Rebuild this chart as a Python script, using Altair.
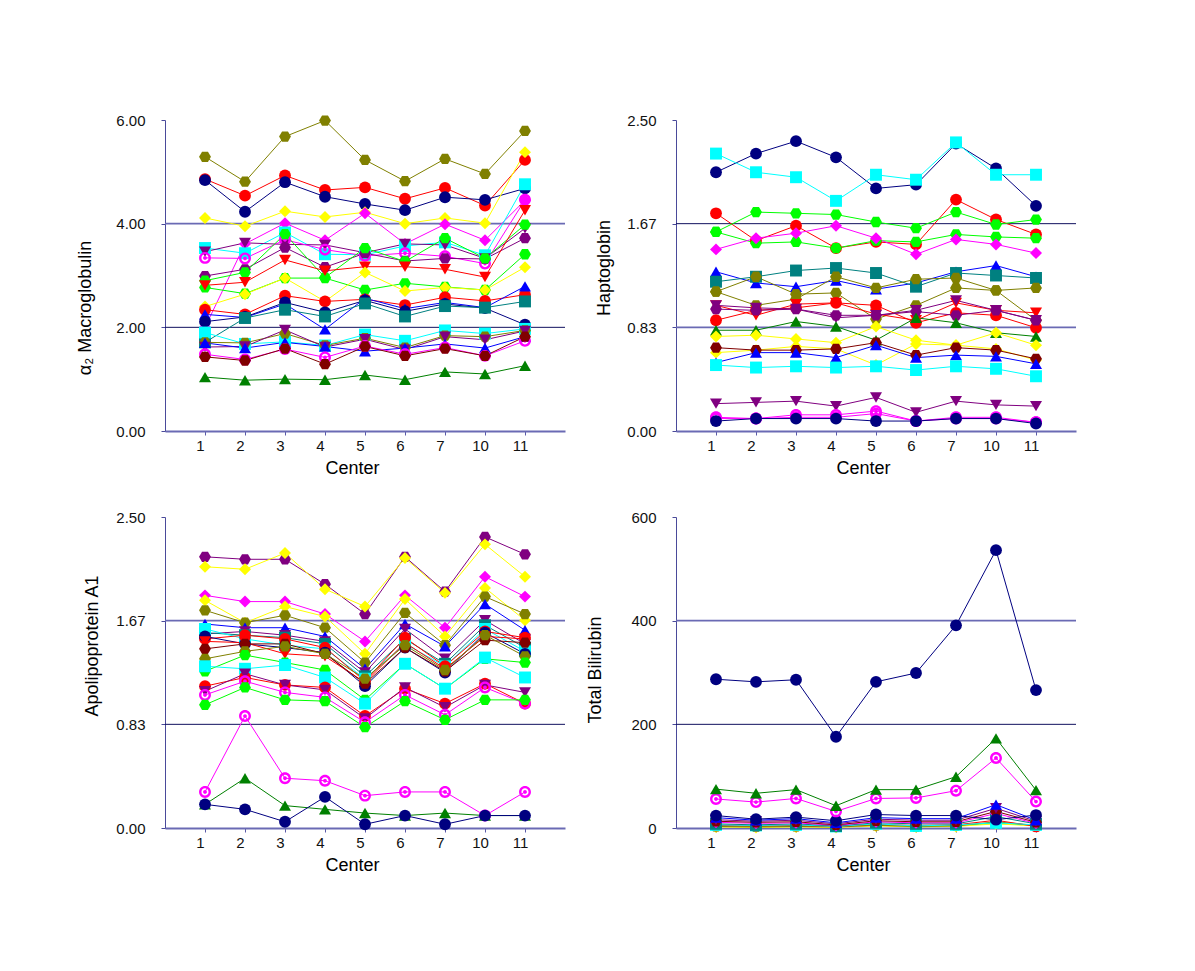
import altair as alt
import pandas as pd

# ---------------- data ----------------
CENTERS = ["1", "2", "3", "4", "5", "6", "7", "10", "11"]

A2M = {
    "olive_hex_1": [5.29, 4.81, 5.68, 5.99, 5.23, 4.82, 5.25, 4.96, 5.79],
    "red_circle_1": [4.86, 4.54, 4.93, 4.65, 4.70, 4.48, 4.69, 4.35, 5.23],
    "navy_circle_1": [4.84, 4.23, 4.80, 4.52, 4.38, 4.26, 4.51, 4.46, 4.68],
    "yellow_diamond_1": [4.11, 3.95, 4.24, 4.13, 4.22, 4.00, 4.11, 4.01, 5.38],
    "magenta_diamond_1": [2.00, 3.61, 4.01, 3.68, 4.20, 3.61, 3.99, 3.68, 4.45],
    "cyan_square_1": [3.53, 3.43, 3.83, 3.41, 3.40, 3.57, 3.64, 3.39, 4.76],
    "purple_tridown_1": [3.46, 3.63, 3.60, 3.59, 3.44, 3.61, 3.59, 3.33, 3.91],
    "magenta_target_1": [3.34, 3.33, 3.69, 3.50, 3.38, 3.43, 3.37, 3.23, 4.46],
    "purple_hex_1": [2.99, 3.12, 3.54, 3.16, 3.43, 3.28, 3.33, 3.32, 3.72],
    "green_hex_1": [2.90, 3.06, 3.80, 2.96, 3.53, 3.27, 3.72, 3.33, 3.98],
    "green_hex_2": [2.77, 2.65, 2.95, 2.95, 2.72, 2.85, 2.78, 2.72, 3.41],
    "red_tridown_1": [2.81, 2.87, 3.30, 3.09, 3.17, 3.17, 3.12, 2.97, 4.26],
    "yellow_diamond_2": [2.40, 2.64, 2.95, 2.50, 3.06, 2.70, 2.77, 2.72, 3.16],
    "red_circle_2": [2.34, 2.25, 2.61, 2.50, 2.54, 2.43, 2.58, 2.51, 2.63],
    "blue_triup_1": [2.25, 2.19, 2.45, 1.96, 2.56, 2.36, 2.48, 2.38, 2.79],
    "navy_circle_2": [2.11, 2.20, 2.48, 2.29, 2.52, 2.31, 2.45, 2.37, 2.05],
    "teal_square_1": [1.71, 2.18, 2.34, 2.21, 2.46, 2.21, 2.41, 2.38, 2.50],
    "cyan_square_2": [1.90, 1.68, 1.72, 1.65, 1.86, 1.74, 1.94, 1.88, 1.97],
    "olive_hex_2": [1.71, 1.70, 1.88, 1.65, 1.79, 1.61, 1.84, 1.82, 1.94],
    "purple_tridown_2": [1.62, 1.63, 1.95, 1.62, 1.77, 1.57, 1.82, 1.76, 1.93],
    "blue_triup_2": [1.70, 1.60, 1.71, 1.63, 1.54, 1.60, 1.68, 1.60, 1.82],
    "magenta_target_2": [1.48, 1.38, 1.58, 1.42, 1.64, 1.48, 1.61, 1.45, 1.74],
    "darkred_hex_1": [1.43, 1.36, 1.59, 1.29, 1.63, 1.45, 1.59, 1.45, 1.82],
    "darkgreen_triup_1": [1.04, 0.98, 1.00, 0.99, 1.08, 0.99, 1.14, 1.10, 1.26],
}

HP = {
    "navy_circle_1": [2.08, 2.23, 2.33, 2.20, 1.95, 1.98, 2.31, 2.11, 1.81],
    "cyan_square_1": [2.23, 2.08, 2.04, 1.85, 2.06, 2.02, 2.32, 2.06, 2.06],
    "red_circle_1": [1.75, 1.53, 1.65, 1.47, 1.52, 1.50, 1.86, 1.70, 1.58],
    "green_hex_1": [1.60, 1.76, 1.75, 1.74, 1.68, 1.63, 1.76, 1.66, 1.70],
    "green_hex_2": [1.60, 1.51, 1.52, 1.47, 1.53, 1.52, 1.58, 1.56, 1.55],
    "magenta_diamond_1": [1.46, 1.55, 1.59, 1.65, 1.55, 1.42, 1.54, 1.50, 1.43],
    "blue_triup_1": [1.28, 1.19, 1.16, 1.21, 1.14, 1.19, 1.28, 1.33, 1.24],
    "teal_square_1": [1.20, 1.24, 1.29, 1.31, 1.27, 1.16, 1.27, 1.25, 1.23],
    "olive_hex_1": [1.12, 1.01, 1.06, 1.24, 1.15, 1.22, 1.23, 1.13, 0.89],
    "olive_hex_2": [1.12, 1.24, 1.10, 1.11, 0.90, 1.01, 1.15, 1.13, 1.15],
    "red_tridown_1": [1.01, 0.93, 1.02, 1.03, 0.94, 0.89, 1.03, 0.97, 0.95],
    "red_circle_2": [0.89, 0.97, 0.99, 1.03, 1.01, 0.87, 0.95, 0.93, 0.83],
    "purple_hex_1": [0.98, 0.97, 0.98, 0.93, 0.93, 0.96, 0.93, 0.97, 0.89],
    "purple_tridown_1": [1.01, 0.99, 0.98, 0.91, 0.93, 0.97, 1.05, 0.97, 0.89],
    "darkgreen_triup_1": [0.81, 0.81, 0.88, 0.84, 0.73, 0.91, 0.87, 0.79, 0.76],
    "yellow_diamond_1": [0.76, 0.77, 0.74, 0.71, 0.84, 0.73, 0.69, 0.79, 0.69],
    "yellow_diamond_2": [0.63, 0.65, 0.68, 0.66, 0.53, 0.70, 0.69, 0.66, 0.57],
    "darkred_hex_1": [0.67, 0.65, 0.65, 0.66, 0.71, 0.61, 0.67, 0.65, 0.58],
    "blue_triup_2": [0.55, 0.63, 0.63, 0.59, 0.69, 0.59, 0.61, 0.60, 0.54],
    "cyan_square_2": [0.53, 0.51, 0.52, 0.51, 0.52, 0.49, 0.52, 0.50, 0.44],
    "purple_tridown_2": [0.22, 0.23, 0.24, 0.20, 0.27, 0.15, 0.24, 0.21, 0.20],
    "magenta_target_1": [0.11, 0.10, 0.13, 0.13, 0.16, 0.08, 0.11, 0.11, 0.07],
    "magenta_target_2": [0.10, 0.10, 0.11, 0.11, 0.14, 0.08, 0.10, 0.10, 0.07],
    "navy_circle_2": [0.08, 0.10, 0.10, 0.10, 0.08, 0.08, 0.10, 0.10, 0.06],
}

APO = {
    "purple_hex_1": [2.18, 2.16, 2.16, 1.96, 1.72, 2.18, 1.90, 2.34, 2.20],
    "yellow_diamond_1": [2.10, 2.08, 2.21, 1.92, 1.78, 2.17, 1.89, 2.28, 2.02],
    "magenta_diamond_1": [1.87, 1.82, 1.82, 1.72, 1.50, 1.87, 1.61, 2.02, 1.86],
    "yellow_diamond_2": [1.83, 1.65, 1.78, 1.70, 1.40, 1.84, 1.54, 1.93, 1.67],
    "olive_hex_1": [1.75, 1.65, 1.71, 1.61, 1.33, 1.73, 1.47, 1.86, 1.72],
    "blue_triup_1": [1.64, 1.61, 1.61, 1.54, 1.28, 1.64, 1.46, 1.80, 1.59],
    "purple_tridown_1": [1.56, 1.58, 1.55, 1.50, 1.25, 1.60, 1.36, 1.67, 1.48],
    "teal_square_1": [1.57, 1.55, 1.53, 1.48, 1.22, 1.52, 1.32, 1.63, 1.45],
    "cyan_square_1": [1.60, 1.52, 1.47, 1.44, 1.20, 1.48, 1.30, 1.60, 1.42],
    "red_circle_1": [1.52, 1.55, 1.52, 1.45, 1.18, 1.53, 1.30, 1.58, 1.53],
    "navy_circle_1": [1.54, 1.48, 1.45, 1.41, 1.14, 1.45, 1.25, 1.57, 1.40],
    "red_tridown_1": [1.50, 1.49, 1.40, 1.38, 1.17, 1.49, 1.28, 1.54, 1.52],
    "darkred_hex_1": [1.44, 1.48, 1.48, 1.40, 1.16, 1.45, 1.26, 1.51, 1.49],
    "olive_hex_2": [1.36, 1.42, 1.46, 1.40, 1.20, 1.47, 1.27, 1.55, 1.38],
    "green_hex_1": [1.26, 1.39, 1.33, 1.27, 1.03, 1.32, 1.12, 1.36, 1.33],
    "cyan_square_2": [1.30, 1.28, 1.31, 1.21, 1.00, 1.32, 1.12, 1.37, 1.21],
    "red_circle_2": [1.14, 1.21, 1.15, 1.13, 0.90, 1.12, 1.00, 1.16, 1.00],
    "purple_tridown_2": [1.10, 1.24, 1.15, 1.11, 0.88, 1.13, 0.97, 1.15, 1.09],
    "magenta_target_1": [1.07, 1.18, 1.09, 1.05, 0.85, 1.07, 0.91, 1.13, 1.00],
    "green_hex_2": [0.99, 1.13, 1.03, 1.02, 0.81, 1.02, 0.87, 1.03, 1.03],
    "magenta_target_2": [0.29, 0.90, 0.40, 0.38, 0.26, 0.29, 0.29, 0.10, 0.29],
    "darkgreen_triup_1": [0.19, 0.40, 0.18, 0.15, 0.12, 0.10, 0.12, 0.10, 0.10],
    "navy_circle_2": [0.19, 0.15, 0.05, 0.25, 0.03, 0.10, 0.03, 0.10, 0.10],
}

TB = {
    "green_hex_1": [4, 3, 4, 2, 6, 2, 5, 9, 5],
    "yellow_diamond_1": [2, 1, 2, 1, 4, 2, 3, 8, 4],
    "olive_hex_1": [3, 2, 3, 2, 5, 3, 4, 12, 5],
    "red_circle_1": [5, 4, 5, 3, 7, 5, 6, 15, 3],
    "cyan_square_1": [6, 5, 6, 3, 8, 4, 6, 10, 6],
    "teal_square_1": [8, 6, 8, 4, 10, 8, 8, 22, 8],
    "magenta_diamond_1": [11, 9, 10, 5, 12, 10, 10, 28, 9],
    "darkred_hex_1": [13, 11, 12, 6, 14, 12, 12, 32, 11],
    "purple_tridown_1": [16, 13, 15, 8, 17, 15, 15, 38, 13],
    "blue_triup_1": [20, 15, 18, 10, 20, 18, 18, 45, 15],
    "navy_circle_2": [24, 17, 21, 14, 26, 24, 24, 16, 25],
    "magenta_target_1": [56, 50, 57, 32, 57, 58, 72, 135, 51],
    "darkgreen_triup_1": [75, 67, 74, 43, 74, 74, 99, 173, 73],
    "navy_circle_1": [287, 282, 286, 176, 282, 299, 391, 536, 266],
}

A2M_TICKS = [0, 2, 4, 6]
HP_TICKS = [0, 2.5 / 3, 5 / 3, 2.5]
APO_TICKS = [0, 2.5 / 3, 5 / 3, 2.5]
TB_TICKS = [0, 200, 400, 600]

# ---------------- styles ----------------
COLORS = {
    "navy": "#000080", "red": "#ff0000", "olive": "#808000", "yellow": "#ffff00",
    "magenta": "#ff00ff", "cyan": "#00ffff", "purple": "#800080", "green": "#00ff00",
    "blue": "#0000ff", "teal": "#008080", "darkgreen": "#008000", "darkred": "#800000",
}
HEX_PATH = "M-1,0L-0.5,-0.866L0.5,-0.866L1,0L0.5,0.866L-0.5,0.866Z"
TARGET_PATH = ("M-1,0A1,1,0,1,1,1,0A1,1,0,1,1,-1,0Z"
               "M-0.6,0A0.6,0.6,0,1,0,0.6,0A0.6,0.6,0,1,0,-0.6,0Z"
               "M-0.32,0A0.32,0.32,0,1,1,0.32,0A0.32,0.32,0,1,1,-0.32,0Z")
SHAPES = {
    "circle": "circle", "hex": HEX_PATH, "target": TARGET_PATH, "square": "square",
    "diamond": "diamond", "triup": "triangle-up", "tridown": "triangle-down",
}
SIZES = {"circle": 140, "hex": 145, "target": 150, "square": 90,
         "diamond": 130, "triup": 105, "tridown": 105}

AXIS_FONT = "Liberation Sans"
W, H = 400, 311
LABEL_EXPR = "[" + ",".join("'%s'" % c for c in CENTERS) + "][datum.value - 1]"


def panel_df(data):
    rows = []
    for name, vals in data.items():
        ckey, skey, _ = name.split("_")
        for i, v in enumerate(vals):
            rows.append({"series": name, "c": ckey, "s": skey, "x": i + 1, "v": v})
    return pd.DataFrame(rows)


def make_panel(data, title, ticks, fmt, title_x, title_dy, grid_tones):
    df = panel_df(data)
    xenc = alt.X(
        "x:Q",
        scale=alt.Scale(domain=[0, len(CENTERS) + 1], nice=False, zero=False),
        axis=alt.Axis(
            values=list(range(1, len(CENTERS) + 1)), labelExpr=LABEL_EXPR,
            title="Center", grid=False, tickSize=4, labelPadding=3, labelOffset=-5,
            domainColor="#6a6ab4", domainWidth=2, tickColor="#5a5aa8",
            labelFontSize=15, labelColor="#111111", labelFont=AXIS_FONT,
            titleFontSize=18, titleFontWeight="normal", titleFont=AXIS_FONT,
            titleColor="#000000", titlePadding=6, titleX=W / 2 - 13,
        ),
    )
    yenc = alt.Y(
        "v:Q",
        scale=alt.Scale(domain=[0, ticks[-1]], nice=False, zero=True),
        axis=alt.Axis(
            values=ticks, format=fmt, title=title, grid=False, tickSize=4,
            labelPadding=16, domainColor="#4a4a9a", domainWidth=1,
            tickColor="#4a4a9a", labelFontSize=15, labelColor="#111111",
            labelFont=AXIS_FONT, titleFontSize=18, titleFontWeight="normal",
            titleFont=AXIS_FONT, titleColor="#000000",
            titleX=title_x, titleY=H / 2 + title_dy,
        ),
    )
    layers = []
    for val, tone in zip(ticks[1:3], grid_tones):
        col, sw = ("#6a6ab4", 1.6) if tone == "light" else ("#10105e", 1.0)
        layers.append(
            alt.Chart(pd.DataFrame({"v": [val]}))
            .mark_rule(color=col, strokeWidth=sw)
            .encode(y=yenc)
        )
    cscale = alt.Scale(domain=list(COLORS), range=list(COLORS.values()))
    lines = alt.Chart(df).mark_line(strokeWidth=1).encode(
        x=xenc, y=yenc,
        color=alt.Color("c:N", scale=cscale, legend=None),
        detail="series:N",
    )
    points = alt.Chart(df).mark_point(filled=True, opacity=1, strokeWidth=0).encode(
        x=xenc, y=yenc,
        color=alt.Color("c:N", scale=cscale, legend=None),
        shape=alt.Shape("s:N", scale=alt.Scale(domain=list(SHAPES), range=list(SHAPES.values())), legend=None),
        size=alt.Size("s:N", scale=alt.Scale(domain=list(SIZES), range=list(SIZES.values())), legend=None),
    )
    layers += [lines, points]
    return alt.layer(*layers).properties(width=W, height=H)


p1 = make_panel(A2M, "α₂ Macroglobulin", A2M_TICKS, ".2f", -71, 32, ["dark", "light"])
p2 = make_panel(HP, "Haptoglobin", HP_TICKS, ".2f", -63, -8, ["light", "dark"])
p3 = make_panel(APO, "Apolipoprotein A1", APO_TICKS, ".2f", -64, -27, ["dark", "light"])
p4 = make_panel(TB, "Total Bilirubin", TB_TICKS, "d", -72, -3, ["dark", "light"])

chart = (
    alt.concat(p1, p2, p3, p4, columns=2, spacing={"row": 86, "column": 111}, bounds="flush")
    .properties(padding={"left": 68, "top": 105, "right": 20, "bottom": 20})
    .configure_view(stroke=None)
    .resolve_scale(x="independent", y="independent")
)

chart.save("out.html", embed_options={"renderer": "svg", "actions": False})
